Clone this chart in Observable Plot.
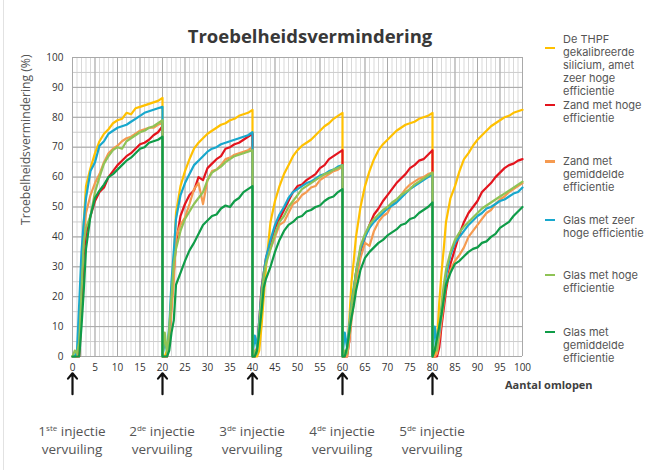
<!DOCTYPE html>
<html>
<head>
<meta charset="utf-8">
<script src="https://cdn.jsdelivr.net/npm/d3@7"></script>
<script src="https://cdn.jsdelivr.net/npm/@observablehq/plot@0.6"></script>
<style>
  html, body { margin: 0; padding: 0; background: #fff; }
  #page { position: relative; width: 662px; height: 470px; overflow: hidden; font-family: "Open Sans", Lato, sans-serif; color: #444; }
  #edge { position: absolute; left: 3px; top: 0; width: 1px; height: 470px; background: #e2e2e2; }
  #title { position: absolute; left: 0; width: 620px; top: 26px; line-height: 20px; text-align: center; font-weight: 700; font-size: 18.5px; color: #383838; }
  #ylabel { position: absolute; left: 17px; top: 50px; height: 180px; writing-mode: vertical-rl; transform: rotate(180deg); text-align: center; font-size: 12.2px; color: #555; }
  #chart { position: absolute; left: 0; top: 45px; }
  #xlabel { position: absolute; left: 505px; top: 377px; font-size: 11px; font-weight: 700; color: #404040; white-space: nowrap; }
  .leg { position: absolute; left: 563px; font-family: Inter, "Open Sans", sans-serif; font-size: 11px; line-height: 13px; color: #555; white-space: nowrap; }
  .sw { position: absolute; left: 545px; width: 10px; height: 2.5px; }
  .inj { position: absolute; top: 423px; transform: translateX(-50%); text-align: center; font-size: 13.5px; line-height: 17.5px; color: #555; white-space: nowrap; }
  .inj sup { font-size: 8px; vertical-align: 5px; line-height: 0; }
</style>
</head>
<body>
<div id="page">
  <div id="edge"></div>
  <div id="title"></div>
  <div id="ylabel"></div>
  <div id="chart"></div>
  <div id="xlabel"></div>
</div>
<script>
// ---- data ----
const titel = "Troebelheidsvermindering";
const yLabel = "Troebelheidsvermindering (%)";
const xLabel = "Aantal omlopen";
const cycli = [0, 20, 40, 60, 80];
const stap = [0, 0.5, 1, 1.5, 2, 2.5, 3, 4, 5, 6, 7, 8, 9, 10, 11, 12, 13, 14, 15, 16, 17, 18, 19, 20];
const xTicks = [0, 5, 10, 15, 20, 25, 30, 35, 40, 45, 50, 55, 60, 65, 70, 75, 80, 85, 90, 95, 100];
const yTicks = [0, 10, 20, 30, 40, 50, 60, 70, 80, 90, 100];

const namen = [
  "De THPF gekalibreerde silicium, amet zeer hoge efficientie",
  "Zand met hoge efficientie",
  "Zand met gemiddelde efficientie",
  "Glas met zeer hoge efficientie",
  "Glas met hoge efficientie",
  "Glas met gemiddelde efficientie"
];
const legendRegels = [
  ["De THPF", "gekalibreerde", "silicium, amet", "zeer hoge", "efficientie"],
  ["Zand met hoge", "efficientie"],
  ["Zand met", "gemiddelde", "efficientie"],
  ["Glas met zeer", "hoge efficientie"],
  ["Glas met hoge", "efficientie"],
  ["Glas met", "gemiddelde", "efficientie"]
];
const kleuren = ["#ffc000", "#e3141d", "#f59a50", "#18a8cd", "#8fc356", "#0f9c48"];
const injectieNr = ["1", "2", "3", "4", "5"];
const injectieSup = ["ste", "de", "de", "de", "de"];

const thpf = [
  [0,0,0,3,25,45,57, 63,68,72,74.5,76,78,79,79.5,81.5,81,83,83.5,84,84.5,85,85.5,86.5],
  [0,0,2,8,22,32,48, 57,62,66,69.5,71.5,73,74.5,75.5,76.5,77.5,78,79,79.5,80.5,81,81.5,82.5],
  [0,0,0,2,10,20,30, 45,52,57,61,64,67,69,70.5,71.5,72.5,74,75.5,77,78,79.5,80.5,81.5],
  [0,0,2,12,25,32,40, 50,57,62,66,69,71,72.5,74,75.5,76.5,77.5,78,78.5,79.5,80,80.5,81.5],
  [0,0,5,18,28,36,45, 53,57,62,66,68,70.5,72.5,74,75.5,77,78,79,80,80.5,81.5,82,82.5]
];
const zandHoog = [
  [0,0,0,0,15,34,41, 47,52,55,56.5,60,62,64,65.5,67,68,69.5,71,71.5,72.5,74,75,77],
  [0,0,0,5,18,28,38, 47,51,54,55.5,60,59,63,64.5,66,67,69.5,70,71,71.5,72.5,73.5,74.5],
  [0,0,3,12,23,28,33, 38,43,46,49,52,55,57,57.5,59,60,61,63,64,66,67,68,69],
  [0,0,0,5,15,22,28, 35,40,44,47.5,49.5,52,54,56,58,59.5,61,63,64,65.5,66,67.5,69],
  [0,0,0,3,10,16,22, 31,36,41,45,48,50,52,55,56.5,58,60,61.5,63,64,64.5,65.5,66]
];
const zandGemiddeld = [
  [0,0,0,5,25,40,48, 54,58,61,65,68,69.5,70.5,72,73,73.5,74.5,75.5,76,76.5,76.5,77.5,78],
  [0,0,0,5,15,25,40, 44,46.5,51,56,58,51,59,62,62.5,64,66,66.5,67.5,68,68.5,69,70],
  [0,0,2,10,18,27,32, 36,40,44,45,48,51,52,54,55,56.5,57,59,60,61,62,62.5,63.5],
  [0,0,0,5,12,18,25, 33,38,37,42,45,47,48,51,52,54,56,57.5,58.5,59.5,60,61,61.5],
  [0,0,1,6,12,18,24, 29,32,34,36.5,40,42,44,46,48,49,51,52.5,53.5,55,56,57,58]
];
const glasZeerHoog = [
  [0,0,2,18,35,45,53, 62,65,70.5,72,74.5,75.5,76.5,77,77.5,78.5,79.5,80.5,81.5,82,82.5,83,83.5],
  [0,5,2,10,25,35,46, 54,58,61,64,65.5,67,68.5,69.5,70,71,71.5,72,72.5,73,73.5,74,75],
  [0,7,3,12,22,28,33, 39,44,47.5,50,53,55,56,57,58,58.5,59.5,60.5,61,62,62.5,63.5,64],
  [0,8,3,10,18,23,28, 36,40,43,45,46.5,48,49.5,50.5,51.5,53,54.5,56,57,58,59,60,61],
  [0,10,4,8,15,22,27, 34,38,40,42,44,45.5,47,48,49.5,50,51,52,52.5,53.5,54.5,55,56.5]
];
const glasHoog = [
  [0,2,1,5,22,38,43, 47,55,60,64.5,67,69,70,69.5,72,73,74,75,75.5,76.5,77,78,79],
  [0,8,1,9,20,31,36, 42,46,48.5,51,53,55,59,61.5,62.5,63.5,65,66,67,67.5,68,68.5,69],
  [0,2,1,10,20,27,31, 36,41,45,47,50,52,54,56,57,58,59,60,61,61.5,62.5,63,64],
  [0,2,1,8,17,22,28, 37,41,44,46,47.5,49,50,51.5,52.5,54,55,56,57.5,58.5,59.5,60.5,61.5],
  [0,3,2,10,17,24,29, 35,39,41.5,43.5,45,46.5,48,49.5,50.5,51.5,52.5,53.5,54.5,55.5,56.5,57.5,58.5]
];
const glasGemiddeld = [
  [0,0,0,0,10,22,36, 47,53,55.5,57.5,60,61,62.5,64,65.5,66.5,68,69.5,70,71.5,72,72.5,73.5],
  [0,0,0,2,8,12,24, 28,32,35.5,38,41,44,45.5,47,47.5,49.5,50.5,50,52,53,55,56,57],
  [0,0,2,8,15,23,26, 30,35,39,42,44,45,46.5,47,48.5,49,50,50.5,52,53,53.5,55,56],
  [0,0,3,8,13,17,22, 29,33,35,36.5,38,39,40.5,41.5,42.5,44,44.5,46,46.5,48,49,50,51.5],
  [0,2,6,10,14,19,24, 28,31,32,33.5,35,36,36.5,38,38.5,40,41,43,44,45,47,48.5,50]
];

// ---- build table ----
const reeksen = [thpf, zandHoog, zandGemiddeld, glasZeerHoog, glasHoog, glasGemiddeld];
const omlopen = cycli.flatMap(c => stap.map(s => c + s));
const rows = reeksen.flatMap((r, k) => r.flat().map((v, i) => ({x: omlopen[i], y: v, serie: namen[k]})));

document.getElementById("title").textContent = titel;
document.getElementById("ylabel").textContent = yLabel;
document.getElementById("xlabel").textContent = xLabel;

const minorX = d3.range(0, 101, 1);
const minorY = d3.range(0, 101, 5);

const chart = Plot.plot({
  width: 540,
  height: 350,
  marginLeft: 72,
  marginRight: 18,
  marginTop: 12,
  marginBottom: 39,
  style: {fontFamily: "'Open Sans', Lato, sans-serif", fontSize: "10px", color: "#333", background: "transparent", overflow: "visible"},
  x: {domain: [0, 100], label: null},
  y: {domain: [0, 100], label: null},
  color: {domain: namen, range: kleuren},
  marks: [
    Plot.ruleX(minorX, {stroke: "#d9d9d9", strokeWidth: 1}),
    Plot.ruleY(minorY, {stroke: "#cdcdcd", strokeWidth: 1}),
    Plot.ruleX(xTicks, {stroke: "#a9a9a9", strokeWidth: 1}),
    Plot.ruleY(yTicks, {stroke: "#a9a9a9", strokeWidth: 1}),
    Plot.line(rows, {x: "x", y: "y", z: "serie", stroke: "serie", strokeWidth: 2.2, strokeLinejoin: "round"}),
    Plot.arrow(cycli, {x1: d => d, x2: d => d, y1: () => -12.6, y2: () => -5.6, stroke: "#111", strokeWidth: 2.2, headLength: 9, headAngle: 80}),
    Plot.axisX({ticks: xTicks, tickSize: 0, tickPadding: 7, label: null}),
    Plot.axisY({ticks: yTicks, tickSize: 0, tickPadding: 9, label: null})
  ]
});
document.getElementById("chart").appendChild(chart);

const page = document.getElementById("page");
const xs = chart.scale("x");

// legend
const legTops = [32.5, 98.5, 155.2, 213.5, 268.5, 325.5];
const swOffsets = [14.25, 5.25, 5.25, 5.25, 5.25, 5.25];
legendRegels.forEach((regels, k) => {
  const d = document.createElement("div");
  d.className = "leg";
  d.style.top = legTops[k] + "px";
  d.innerHTML = regels.join("<br>");
  page.appendChild(d);
  const s = document.createElement("div");
  s.className = "sw";
  s.style.top = (legTops[k] + swOffsets[k]) + "px";
  s.style.background = kleuren[k];
  page.appendChild(s);
});

// injection labels under the arrows
cycli.forEach((c, k) => {
  const d = document.createElement("div");
  d.className = "inj";
  d.style.left = xs.apply(c) + "px";
  d.innerHTML = injectieNr[k] + "<sup>" + injectieSup[k] + "</sup> injectie<br>vervuiling";
  page.appendChild(d);
});
</script>
</body>
</html>
